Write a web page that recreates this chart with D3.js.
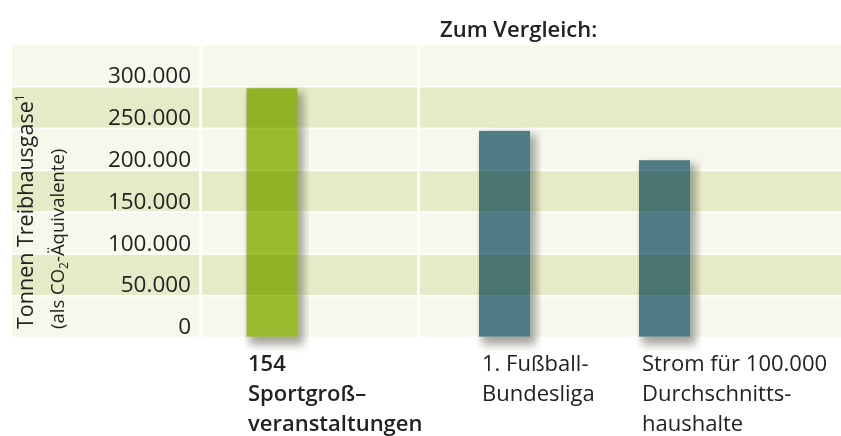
<!DOCTYPE html>
<html><head><meta charset="utf-8">
<script src="https://cdn.jsdelivr.net/npm/d3@7"></script>
<style>
html,body{margin:0;padding:0;background:#fff;}
svg{display:block;font-family:"Open Sans",sans-serif;}
</style></head>
<body>
<script>
// ---- data ----
const categories = ["154 Sportgroßveranstaltungen", "1. Fußball-Bundesliga", "Strom für 100.000 Durchschnittshaushalte"];
const values = [297000, 246000, 211000];
const groups = ["main", "compare", "compare"];
const labelLines = [["154", "Sportgroß–", "veranstaltungen"], ["1. Fußball-", "Bundesliga"], ["Strom für 100.000", "Durchschnitts-", "haushalte"]];
const yTicks = [0, 50000, 100000, 150000, 200000, 250000, 300000];
const yTickLabels = ["0", "50.000", "100.000", "150.000", "200.000", "250.000", "300.000"];
const bandSteps = [0, 50000, 100000, 150000, 200000, 250000, 300000];
const yMax = 350000;
const titleText = "Zum Vergleich:";

// ---- layout ----
const W = 841, H = 436;
const svg = d3.select("body").append("svg").attr("width", W).attr("height", H);
const defs = svg.append("defs");
defs.append("filter").attr("id", "blur").attr("x", "-50%").attr("y", "-50%").attr("width", "200%").attr("height", "200%")
  .append("feGaussianBlur").attr("stdDeviation", 4);

const y = d3.scaleLinear().domain([0, yMax]).range([336.7, 43.9]);
const panels = [[12, 199], [202, 417], [420, W]];
const gap = 1.8;

// bands
const bandG = svg.append("g");
panels.forEach(p => {
  bandG.selectAll(null).data(bandSteps).enter().append("rect")
    .attr("x", p[0]).attr("width", p[1] - p[0])
    .attr("y", d => y(d + 50000) + gap)
    .attr("height", d => y(d) - y(d + 50000) - gap)
    .attr("fill", (d, i) => i % 2 === 0 ? "#f6f8ec" : "#e5ebc6");
});

// x scales
const mainCats = categories.filter((c, i) => groups[i] === "main");
const compCats = categories.filter((c, i) => groups[i] === "compare");
const xMain = d3.scaleBand().domain(mainCats).range([195.5, 348.5]).paddingInner(0.5).paddingOuter(0.5);
const xComp = d3.scaleBand().domain(compCats).range([399, 770]).paddingInner(0.68125).paddingOuter(0.5);
const bw = xComp.bandwidth();
const xPos = (c, i) => groups[i] === "main" ? xMain(c) + (xMain.bandwidth() - bw) / 2 : xComp(c);

const data = categories.map((c, i) => ({ c, v: values[i], g: groups[i], x: xPos(c, i), lines: labelLines[i] }));

// shadows (masked so they don't darken the bars)
data.forEach((d, i) => {
  const m = defs.append("mask").attr("id", "m" + i);
  m.append("rect").attr("x", 0).attr("y", 0).attr("width", W).attr("height", H).attr("fill", "#fff");
  m.append("rect").attr("x", d.x).attr("y", y(d.v)).attr("width", bw).attr("height", y(0) - y(d.v)).attr("fill", "#000");
  svg.append("g").attr("mask", "url(#m" + i + ")")
    .append("rect")
    .attr("x", d.x + 3).attr("y", y(d.v) + 4)
    .attr("width", bw + 3).attr("height", y(0) - y(d.v) + 4)
    .attr("fill", "#6a6a5a").attr("opacity", 0.6)
    .attr("filter", "url(#blur)");
});

// bars
svg.append("g").selectAll("rect").data(data).enter().append("rect")
  .attr("x", d => d.x).attr("width", bw)
  .attr("y", d => y(d.v)).attr("height", d => y(0) - y(d.v))
  .attr("fill", d => d.g === "main" ? "#a2c032" : "#527f90")
  .style("mix-blend-mode", "multiply");

// y tick labels
svg.append("g").selectAll("text").data(yTicks).enter().append("text")
  .attr("x", 191).attr("y", d => y(d) - 2.5)
  .attr("text-anchor", "end")
  .attr("font-size", 22.5).attr("fill", "#222")
  .text((d, i) => yTickLabels[i]);

// y axis titles
const t1 = svg.append("text").attr("transform", "translate(33,329) rotate(-90)")
  .attr("font-size", 21.5).attr("fill", "#222");
t1.append("tspan").text("Tonnen Treibhausgase");
t1.append("tspan").attr("font-size", 12).attr("dy", -9).text("1");

const t2 = svg.append("text").attr("transform", "translate(64,329) rotate(-90)")
  .attr("font-size", 18.5).attr("fill", "#222");
t2.append("tspan").text("(als CO");
t2.append("tspan").attr("font-size", 12).attr("dy", 4).text("2");
t2.append("tspan").attr("dy", -4).text("-Äquivalente)");

// category labels
const lab = svg.append("g").selectAll("text").data(data).enter().append("text")
  .attr("x", d => d.x + (d.g === "main" ? 1.5 : 3))
  .attr("y", 370.5)
  .attr("font-size", 22).attr("fill", "#222")
  .attr("font-weight", d => d.g === "main" ? 600 : 400);
lab.selectAll("tspan").data(d => d.lines.map(l => ({ l, x: d.x + (d.g === "main" ? 1.5 : 3) })))
  .enter().append("tspan")
  .attr("x", d => d.x).attr("dy", (d, i) => i === 0 ? 0 : 30)
  .text(d => d.l);

// title
svg.append("text").attr("x", 440).attr("y", 36.5)
  .attr("font-size", 22).attr("font-weight", 600).attr("fill", "#222")
  .text(titleText);
</script>
</body></html>
